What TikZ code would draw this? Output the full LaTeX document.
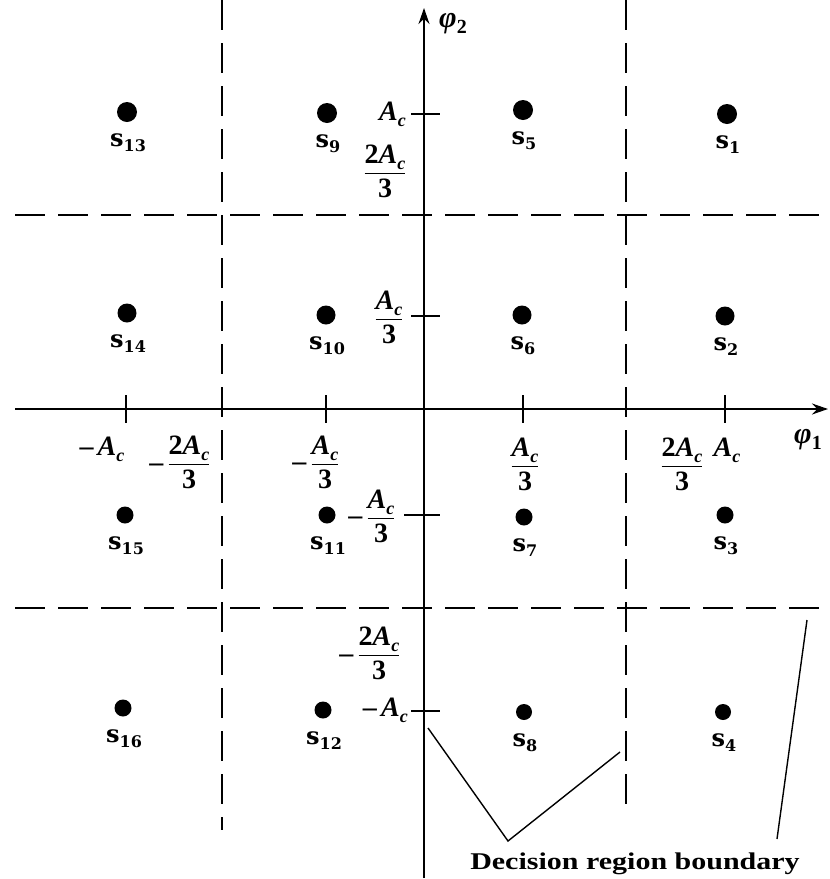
\documentclass[tikz,border=0pt]{standalone}
\usepackage{fontspec}
\setmainfont{Liberation Serif}
\newfontfamily\slabfont{DejaVu Serif}
\usepackage{amsmath}
\usetikzlibrary{arrows.meta}
\newcommand{\sname}[1]{s\raisebox{-5pt}{\fontsize{16}{18}\selectfont #1}}
\newcommand{\Acx}{\mbox{\bfseries\itshape A\raisebox{-6pt}{\fontsize{18}{20}\selectfont c}}}
\newcommand{\thr}{\mbox{\bfseries 3}}
\newcommand{\two}{\mbox{\bfseries 2}}
\newcommand{\mns}{\mbox{\bfseries\char"2013}}
\newcommand{\phix}[1]{\mbox{\bfseries\itshape φ\raisebox{-6pt}{\fontsize{20}{22}\selectfont\upshape #1}}}
\begin{document}
\begin{tikzpicture}[x=1pt,y=-1pt,
  dot/.style={circle,fill=black,inner sep=0pt,minimum size=#1},
  dot/.default=18pt,
  slab/.style={font=\fontsize{24}{28}\slabfont\bfseries,inner sep=0pt},
  lab/.style={font=\fontsize{28}{32}\selectfont,inner sep=0pt},
  axisline/.style={line width=1.8pt,-{Stealth[length=16pt,width=11pt]}},
  tickline/.style={line width=1.6pt},
  bnd/.style={line width=1.8pt,dash pattern=on 30pt off 13pt},
  edgeline/.style={line width=1.4pt}]
\useasboundingbox (0,0) rectangle (830,879);

% decision boundaries (dashed)
\draw[bnd] (222,0) -- (222,830);
\draw[bnd] (626,0) -- (626,805);
\draw[bnd] (15,215) -- (830,215);
\draw[bnd] (15,608) -- (830,608);

% axes
\coordinate (xs) at (15,409);
\coordinate (xe) at (828,409);
\coordinate (ys) at (424,878);
\coordinate (ye) at (424,8);
\draw[axisline] (xs) -- (xe);
\draw[axisline] (ys) -- (ye);
\node[font=\fontsize{30}{34}\selectfont,inner sep=0pt] (phi1) at (808,440) {\phix{1}};
\node[font=\fontsize{30}{34}\selectfont,inner sep=0pt] (phi2) at (453,24) {\phix{2}};

% ticks on horizontal axis
\foreach \x/\n in {126/hm3,326/hm1,523/hp1,725/hp3}
  \draw[tickline] (\x,395) coordinate (\n) -- (\x,423);
% ticks on vertical axis
\foreach \y/\n in {114/vp3,316/vp1,515/vm1,711/vm3}
  \draw[tickline] (411,\y) coordinate (\n) -- (440,\y);
\draw[tickline] (404,515) -- (411,515);

% axis value labels
\node[lab,anchor=east] (lAc) at (406,114) {\Acx};
\node[lab] (l2Ac) at (385,171) {$\dfrac{\two\Acx}{\thr}$};
\node[lab] (lAc3) at (389,317) {$\dfrac{\Acx}{\thr}$};
\node[lab] (lmAc3v) at (372,516) {$\mns\,\dfrac{\Acx}{\thr}$};
\node[lab] (lm2Ac3v) at (370,653) {$\mns\,\dfrac{\two\Acx}{\thr}$};
\node[lab,anchor=east] (lmAcv) at (408,710) {$\mns\,\Acx$};

\node[lab] (lmAch) at (102,449) {$\mns\,\Acx$};
\node[lab] (lm2Ac3h) at (180,462) {$\mns\,\dfrac{\two\Acx}{\thr}$};
\node[lab] (lmAc3h) at (316,462) {$\mns\,\dfrac{\Acx}{\thr}$};
\node[lab] (lAc3h) at (525,464) {$\dfrac{\Acx}{\thr}$};
\node[lab] (l2Ac3h) at (682,464) {$\dfrac{\two\Acx}{\thr}$};
\node[lab] (lAch) at (727,450) {\Acx};

% signal points
\foreach \i/\x/\y/\d in {13/127/112/20pt,9/327/113/20pt,5/523/110/20pt,1/727/114/20pt,
  14/127/313/19pt,10/326/315/19pt,6/522/315/19pt,2/725/316/19pt,
  15/125/515/17pt,11/327/515/17pt,7/524/517/17pt,3/725/515/17pt,
  16/123/708/17pt,12/323/710/17pt,8/524/712/16pt,4/723/712/16pt}{
  \node[dot=\d] (p\i) at (\x,\y) {};
  \node[slab] (s\i) at (\x+1,\y+31) {\sname{\i}};
}

% decision region boundary pointers
\node[font=\fontsize{24}{28}\selectfont\bfseries,inner sep=0pt] (cap) at (635,864)
  {\scalebox{1.25}[1]{Decision region boundary}};
\coordinate (v1) at (428,728);
\coordinate (v0) at (508,841);
\coordinate (v2) at (620,752);
\coordinate (r1) at (807,620);
\coordinate (r0) at (777,839);
\draw[edgeline] (v1) -- (v0) -- (v2);
\draw[edgeline] (r1) -- (r0);
\end{tikzpicture}
\end{document}
